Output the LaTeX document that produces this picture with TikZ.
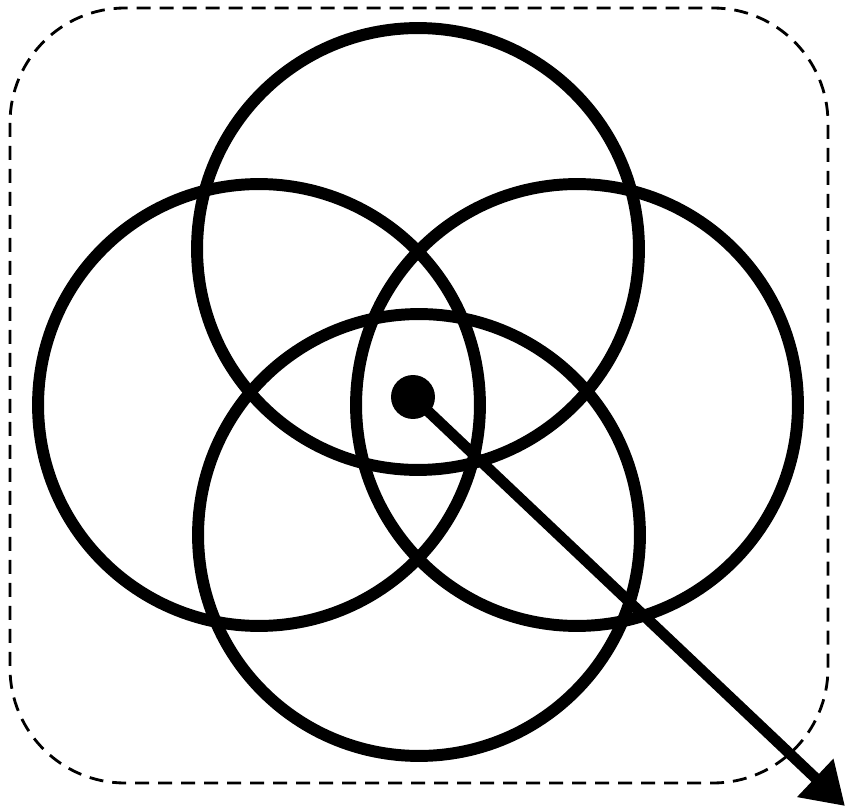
\documentclass[tikz,border=0pt]{standalone}
\usetikzlibrary{arrows.meta,shapes}

\begin{document}
\begin{tikzpicture}[
    x=0.02cm, y=-0.02cm,
    ring/.style={circle, draw, line width=6.8pt, minimum size=8.84cm, inner sep=0pt},
    dot/.style={circle, fill, minimum size=0.88cm, inner sep=0pt},
    frame/.style={draw, dashed, line width=1.6pt, dash pattern=on 0.28cm off 0.18cm, rounded corners=2.3cm},
    arrow/.style={-{Triangle[length=0.82cm, width=1.0cm]}, line width=6.2pt}
]
\useasboundingbox (0,0) rectangle (846,811);

% Outer frame
\draw[frame] (10,8) rectangle (828,783);

% Four rings
\node[ring] (top) at (418,249) {};
\node[ring] (left) at (259,405) {};
\node[ring] (right) at (577,405) {};
\node[ring] (bottom) at (419,535) {};

% Centre and pointer
\node[dot] (centre) at (413,397) {};
\coordinate (tip) at (845,806);

% Arrow
\draw[arrow] (centre.center) -- (tip);

\end{tikzpicture}
\end{document}
